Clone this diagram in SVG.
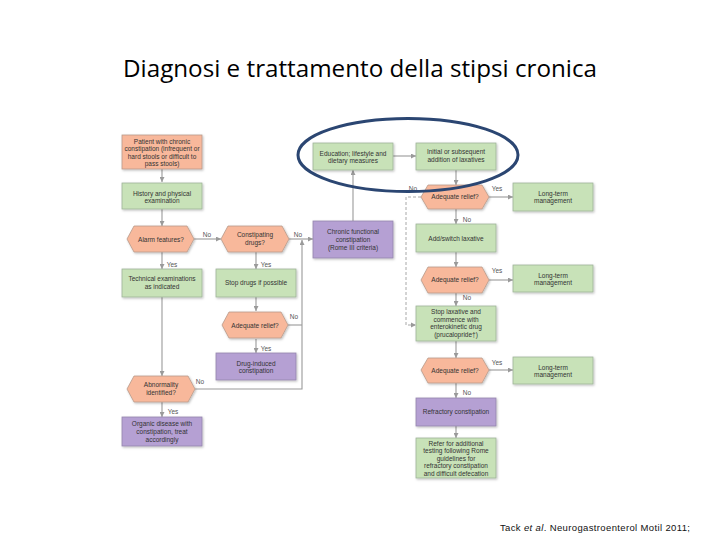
<svg xmlns="http://www.w3.org/2000/svg" width="720" height="540" viewBox="0 0 720 540">
<defs>
<marker id="arr" viewBox="0 0 6 6" refX="6" refY="3" markerWidth="5" markerHeight="5" orient="auto" markerUnits="userSpaceOnUse">
<path d="M0,0 L6,3 L0,6 z" fill="#9a9a9a"/>
</marker>
<filter id="sh" x="-10%" y="-10%" width="130%" height="140%">
<feDropShadow dx="1" dy="1.2" stdDeviation="0.8" flood-color="#000" flood-opacity="0.25"/>
</filter>
<style>
.org{fill:#f8b89b;stroke:#b89a8a;stroke-width:0.8;filter:url(#sh)}
.grn{fill:#c8e2b8;stroke:#9fb39a;stroke-width:0.8;filter:url(#sh)}
.pur{fill:#b5a0d3;stroke:#9585ad;stroke-width:0.8;filter:url(#sh)}
.t{font-family:"Liberation Sans",Arial,sans-serif;font-size:6.5px;fill:#333;text-anchor:middle}
.l{font-family:"Liberation Sans",Arial,sans-serif;font-size:6.5px;fill:#555;text-anchor:middle}
.c{fill:none;stroke:#9a9a9a;stroke-width:1.1}
.d{fill:none;stroke:#a8a8a8;stroke-width:1;stroke-dasharray:3,2}
</style>
</defs>
<rect width="720" height="540" fill="#fff"/>
<text x="360" y="77" font-family="'Open Sans','Noto Sans','Liberation Sans',sans-serif" font-size="24" fill="#000" text-anchor="middle" textLength="474" lengthAdjust="spacingAndGlyphs">Diagnosi e trattamento della stipsi cronica</text>

<g id="connectors">
<path class="c" d="M162,169 V182" marker-end="url(#arr)"/>
<path class="c" d="M162,209 V226" marker-end="url(#arr)"/>
<path class="c" d="M194,239 H221" marker-end="url(#arr)"/>
<path class="c" d="M289,239 H313" marker-end="url(#arr)"/>
<path class="c" d="M162,252 V269" marker-end="url(#arr)"/>
<path class="c" d="M256,252 V269" marker-end="url(#arr)"/>
<path class="c" d="M256,297 V311" marker-end="url(#arr)"/>
<path class="c" d="M256,339 V353" marker-end="url(#arr)"/>
<path class="c" d="M288,325 H302"/>
<path class="c" d="M195,389 H302 V240" marker-end="url(#arr)"/>
<path class="c" d="M162,297 V376" marker-end="url(#arr)"/>
<path class="c" d="M162,402 V417" marker-end="url(#arr)"/>
<path class="c" d="M353,221 V170" marker-end="url(#arr)"/>
<path class="c" d="M393,156 H416" marker-end="url(#arr)"/>
<path class="c" d="M456,170 V185" marker-end="url(#arr)"/>
<path class="c" d="M489,197 H513" marker-end="url(#arr)"/>
<path class="c" d="M456,209 V224" marker-end="url(#arr)"/>
<path class="d" d="M421,197 H406 V325 H415"/>
<path d="M411,322.5 L416,325 L411,327.5 z" fill="#9a9a9a"/>
<path class="c" d="M456,252 V267" marker-end="url(#arr)"/>
<path class="c" d="M489,280 H513" marker-end="url(#arr)"/>
<path class="c" d="M456,293 V306" marker-end="url(#arr)"/>
<path class="c" d="M456,341 V358" marker-end="url(#arr)"/>
<path class="c" d="M489,370 H513" marker-end="url(#arr)"/>
<path class="c" d="M456,383 V398" marker-end="url(#arr)"/>
<path class="c" d="M456,426 V438" marker-end="url(#arr)"/>
<text class="l" x="207" y="237">No</text>
<text class="l" x="298" y="237">No</text>
<text class="l" x="172" y="267">Yes</text>
<text class="l" x="266" y="267">Yes</text>
<text class="l" x="294" y="319">No</text>
<text class="l" x="266" y="351">Yes</text>
<text class="l" x="200" y="384">No</text>
<text class="l" x="173" y="414">Yes</text>
<text class="l" x="413" y="191">No</text>
<text class="l" x="497" y="191">Yes</text>
<text class="l" x="467" y="222">No</text>
<text class="l" x="497" y="273">Yes</text>
<text class="l" x="467" y="300">No</text>
<text class="l" x="497" y="365">Yes</text>
<text class="l" x="467" y="395">No</text>
</g>

<g id="n-patient"><rect class="org" x="122" y="135" width="80" height="34"/>
<text class="t" x="162" y="143.5">Patient with chronic</text><text class="t" x="162" y="151">constipation (infrequent or</text><text class="t" x="162" y="158.5">hard stools or difficult to</text><text class="t" x="162" y="166">pass stools)</text></g>
<g id="n-history"><rect class="grn" x="122" y="183" width="80" height="26"/>
<text class="t" x="162" y="195.5">History and physical</text><text class="t" x="162" y="203">examination</text></g>
<g id="n-alarm"><polygon class="org" points="127,239 134,226 187,226 194,239 187,252 134,252"/>
<text class="t" x="161" y="241.5">Alarm features?</text></g>
<g id="n-constip"><polygon class="org" points="221,239 228,226 282,226 289,239 282,252 228,252"/>
<text class="t" x="255" y="237">Constipating</text><text class="t" x="255" y="244.5">drugs?</text></g>
<g id="n-technical"><rect class="grn" x="122" y="269" width="80" height="28"/>
<text class="t" x="162" y="281">Technical examinations</text><text class="t" x="162" y="288.5">as indicated</text></g>
<g id="n-stopdrugs"><rect class="grn" x="216" y="269" width="80" height="28"/>
<text class="t" x="256" y="285">Stop drugs if possible</text></g>
<g id="n-relief-l"><polygon class="org" points="222,325 229,312 281,312 288,325 281,338 229,338"/>
<text class="t" x="255" y="327.5">Adequate relief?</text></g>
<g id="n-druginduced"><rect class="pur" x="216" y="353" width="80" height="27"/>
<text class="t" x="256" y="365.5">Drug-induced</text><text class="t" x="256" y="373">constipation</text></g>
<g id="n-abnormality"><polygon class="org" points="127,389 134,376 188,376 195,389 188,402 134,402"/>
<text class="t" x="161" y="387">Abnormality</text><text class="t" x="161" y="394.5">identified?</text></g>
<g id="n-organic"><rect class="pur" x="122" y="417" width="80" height="29"/>
<text class="t" x="162" y="425.5">Organic disease with</text><text class="t" x="162" y="433.5">constipation, treat</text><text class="t" x="162" y="441.5">accordingly</text></g>
<g id="n-chronic"><rect class="pur" x="313" y="221" width="80" height="37"/>
<text class="t" x="353" y="234">Chronic functional</text><text class="t" x="353" y="241.5">constipation</text><text class="t" x="353" y="249.5">(Rome III criteria)</text></g>
<g id="n-education"><rect class="grn" x="313" y="143" width="80" height="27"/>
<text class="t" x="353" y="155.5">Education; lifestyle and</text><text class="t" x="353" y="163">dietary measures</text></g>
<g id="n-initial"><rect class="grn" x="416" y="143" width="80" height="27"/>
<text class="t" x="456" y="154">Initial or subsequent</text><text class="t" x="456" y="161.5">addition of laxatives</text></g>
<g id="n-relief1"><polygon class="org" points="421,197 428,185 482,185 489,197 482,209 428,209"/>
<text class="t" x="455" y="199">Adequate relief?</text></g>
<g id="n-lt1"><rect class="grn" x="513" y="183" width="80" height="28"/>
<text class="t" x="553" y="195.5">Long-term</text><text class="t" x="553" y="203">management</text></g>
<g id="n-addswitch"><rect class="grn" x="416" y="224" width="80" height="28"/>
<text class="t" x="456" y="240.5">Add/switch laxative</text></g>
<g id="n-relief2"><polygon class="org" points="421,280 428,267 482,267 489,280 482,293 428,293"/>
<text class="t" x="455" y="282">Adequate relief?</text></g>
<g id="n-lt2"><rect class="grn" x="513" y="265" width="80" height="27"/>
<text class="t" x="553" y="278">Long-term</text><text class="t" x="553" y="285">management</text></g>
<g id="n-stoplax"><rect class="grn" x="416" y="306" width="80" height="35"/>
<text class="t" x="456" y="314">Stop laxative and</text><text class="t" x="456" y="321.5">commence with</text><text class="t" x="456" y="329">enterokinetic drug</text><text class="t" x="456" y="336.5">(prucalopride†)</text></g>
<g id="n-relief3"><polygon class="org" points="421,370 428,358 482,358 489,370 482,383 428,383"/>
<text class="t" x="455" y="372.5">Adequate relief?</text></g>
<g id="n-lt3"><rect class="grn" x="513" y="357" width="80" height="27"/>
<text class="t" x="553" y="369.5">Long-term</text><text class="t" x="553" y="377">management</text></g>
<g id="n-refractory"><rect class="pur" x="416" y="398" width="80" height="28"/>
<text class="t" x="456" y="414">Refractory constipation</text></g>
<g id="n-refer"><rect class="grn" x="416" y="438" width="80" height="40"/>
<text class="t" x="456" y="445.5">Refer for additional</text><text class="t" x="456" y="453">testing following Rome</text><text class="t" x="456" y="460.5">guidelines for</text><text class="t" x="456" y="468">refractory constipation</text><text class="t" x="456" y="475.5">and difficult defecation</text></g>

<ellipse cx="408" cy="155" rx="110" ry="36.5" fill="none" stroke="#2b4672" stroke-width="3"/>
<text x="500" y="531" font-family="'Liberation Sans',Arial,sans-serif" font-size="9.5" fill="#111" textLength="190" lengthAdjust="spacing">Tack <tspan font-style="italic">et al</tspan>. Neurogastroenterol Motil 2011;</text>
</svg>
